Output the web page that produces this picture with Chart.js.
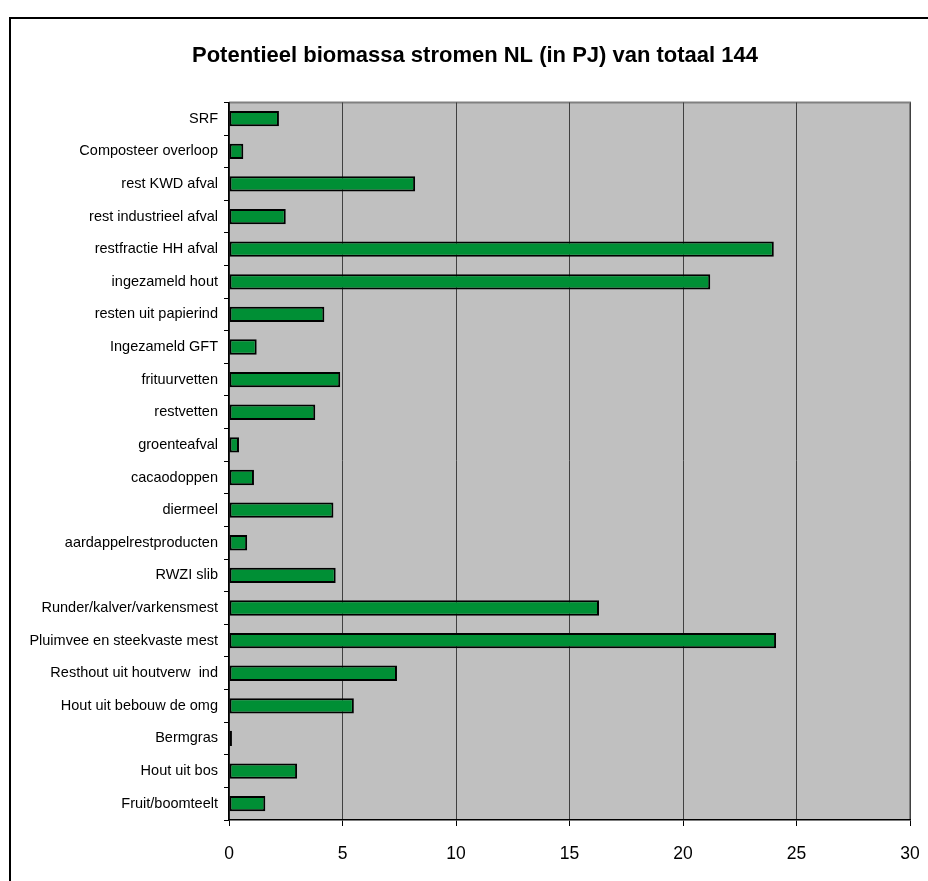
<!DOCTYPE html>
<html lang="nl">
<head>
  <meta charset="UTF-8">
  <title>Potentieel biomassa stromen NL</title>
  <script src="https://cdn.jsdelivr.net/npm/chart.js"></script>
  <style>
    body { margin: 0; background: #fff; }
    #wrap { position: relative; width: 928px; height: 881px; overflow: hidden; }
    #frame { position: absolute; left: 9px; top: 17px; width: 940px; height: 900px; border: 2px solid #000; pointer-events: none; }
    canvas { position: absolute; left: 0; top: 0; }
  </style>
</head>
<body>
<div id="wrap">
  <canvas id="myChart" width="928" height="881"></canvas>
  <div id="frame"></div>
</div>
<script>
const categories = [
  'SRF', 'Composteer overloop', 'rest KWD afval', 'rest industrieel afval',
  'restfractie HH afval', 'ingezameld hout', 'resten uit papierind', 'Ingezameld GFT',
  'frituurvetten', 'restvetten', 'groenteafval', 'cacaodoppen', 'diermeel',
  'aardappelrestproducten', 'RWZI slib', 'Runder/kalver/varkensmest',
  'Pluimvee en steekvaste mest', 'Resthout uit houtverw  ind', 'Hout uit bebouw de omg',
  'Bermgras', 'Hout uit bos', 'Fruit/boomteelt'
];
const values = [
  2.2, 0.63, 8.2, 2.5, 24.0, 21.2, 4.2, 1.22,
  4.9, 3.8, 0.44, 1.1, 4.6, 0.8, 4.7, 16.3,
  24.1, 7.4, 5.5, 0.13, 3.0, 1.6
];
const xTicks = [0, 5, 10, 15, 20, 25, 30];

// grijze plot-achtergrond met rand boven en rechts
const plotBg = {
  id: 'plotBg',
  beforeDraw(chart) {
    const { ctx, chartArea: a } = chart;
    ctx.save();
    ctx.fillStyle = '#c0c0c0';
    ctx.fillRect(a.left, a.top, a.right - a.left, a.bottom - a.top);
    ctx.strokeStyle = '#808080';
    ctx.lineWidth = 2;
    ctx.beginPath();
    ctx.moveTo(a.left, a.top);
    ctx.lineTo(a.right, a.top);
    ctx.lineTo(a.right, a.bottom);
    ctx.stroke();
    ctx.restore();
  }
};

const ctx = document.getElementById('myChart').getContext('2d');
new Chart(ctx, {
  type: 'bar',
  data: {
    labels: categories,
    datasets: [{
      data: values,
      backgroundColor: '#008f35',
      borderColor: '#000',
      borderWidth: 2,
      borderSkipped: false,
      categoryPercentage: 1,
      barPercentage: 0.47
    }]
  },
  plugins: [plotBg],
  options: {
    indexAxis: 'y',
    responsive: false,
    animation: false,
    layout: { padding: { left: 22, right: 0, top: 0, bottom: 0 } },
    plugins: {
      legend: { display: false },
      tooltip: { enabled: false },
      title: {
        display: true,
        text: 'Potentieel biomassa stromen NL (in PJ) van totaal 144',
        color: '#000',
        font: { family: 'Liberation Sans, Arial, sans-serif', size: 22, weight: 'bold' },
        padding: { top: 43, bottom: 33 }
      }
    },
    scales: {
      x: {
        min: 0,
        max: 30,
        afterBuildTicks: s => { s.ticks = xTicks.map(v => ({ value: v })); },
        afterFit: s => { s.height = 61; s.paddingRight = 18; },
        grid: { color: '#404040', lineWidth: 1, tickColor: '#000', tickLength: 6 },
        border: { color: '#000', width: 1.5 },
        ticks: {
          color: '#000',
          padding: 18,
          font: { family: 'Liberation Sans, Arial, sans-serif', size: 17.5 }
        }
      },
      y: {
        afterFit: s => { s.width = 207; },
        grid: { drawOnChartArea: false, tickColor: '#000', tickLength: 5, offset: true },
        border: { color: '#000', width: 1.5 },
        ticks: {
          color: '#000',
          padding: 6,
          autoSkip: false,
          font: { family: 'Liberation Sans, Arial, sans-serif', size: 14.5 }
        }
      }
    }
  }
});
</script>
</body>
</html>
